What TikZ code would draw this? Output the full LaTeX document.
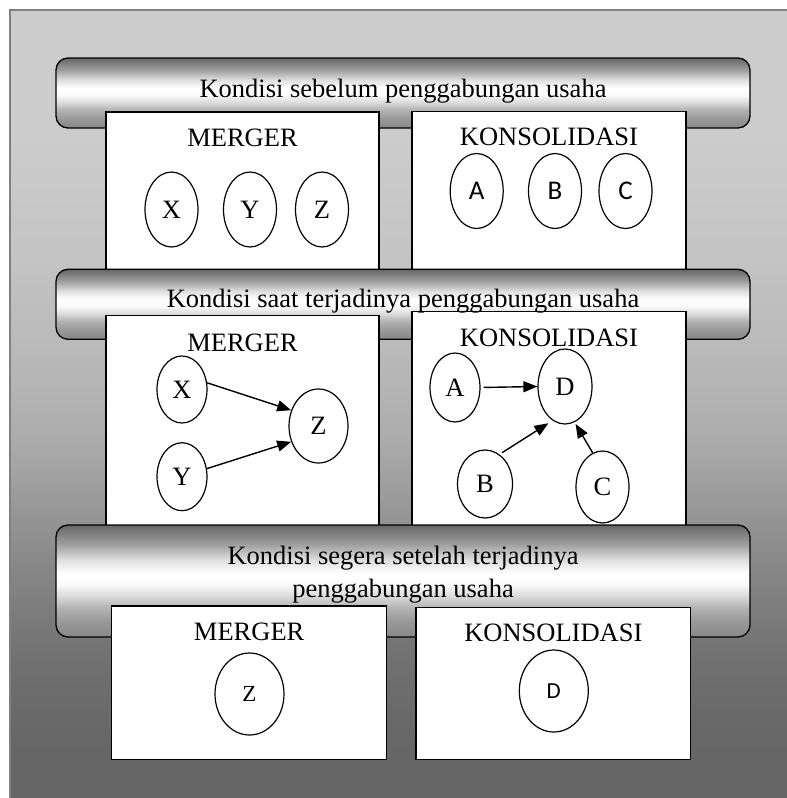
\documentclass[tikz,border=0pt]{standalone}
\usepackage{fontspec}
\setmainfont{Liberation Serif}
\newfontfamily\sansf{Carlito}
\usetikzlibrary{shapes.geometric,arrows.meta}
\definecolor{bgA}{gray}{0.80}
\definecolor{bgB}{gray}{0.77}
\definecolor{bgC}{gray}{0.72}
\definecolor{bgD}{gray}{0.67}
\definecolor{bgE}{gray}{0.58}
\definecolor{bgF}{gray}{0.50}
\definecolor{bgG}{gray}{0.43}
\definecolor{bgH}{gray}{0.40}
\definecolor{frameC}{gray}{0.5}
\definecolor{bnA}{gray}{0.40}
\definecolor{bnB}{gray}{0.62}
\definecolor{bnC}{gray}{0.87}
\definecolor{bnD}{gray}{1.0}
\definecolor{bnE}{gray}{0.98}
\definecolor{bnF}{gray}{0.85}
\definecolor{bnG}{gray}{0.70}
\definecolor{bnH}{gray}{0.60}
\definecolor{bnI}{gray}{0.53}
\pgfdeclareverticalshading{bgshade}{100bp}{color(0bp)=(bgH); color(28.2bp)=(bgH); color(33bp)=(bgG); color(37.9bp)=(bgF); color(42.8bp)=(bgE); color(47.6bp)=(bgD); color(52.5bp)=(bgC); color(59.8bp)=(bgB); color(67.1bp)=(bgA); color(100bp)=(bgA)}
\pgfdeclareverticalshading{bannershade}{100bp}{color(0bp)=(bnI); color(25bp)=(bnI); color(32bp)=(bnH); color(38bp)=(bnG); color(43bp)=(bnF); color(48.5bp)=(bnE); color(53.5bp)=(bnD); color(59.5bp)=(bnC); color(66.5bp)=(bnB); color(75bp)=(bnA); color(100bp)=(bnA)}
\tikzset{
  banner/.style={draw=black, line width=1.3pt, rounded corners=12pt, shading=bannershade, minimum width=694pt, inner sep=0pt},
  box/.style={draw=black, fill=white, line width=1.3pt, inner sep=0pt},
  ttl/.style={anchor=base, inner sep=0pt, font=\fontsize{26.5}{32}\selectfont},
  ell/.style={draw=black, line width=1.2pt, ellipse, inner sep=0pt, font=\fontsize{26.5}{32}\selectfont},
  sell/.style={ell, font=\sansf\fontsize{27}{32}\selectfont},
  arr/.style={-{Triangle[length=14pt,width=11pt]}, line width=1.4pt}
}
\begin{document}
\begin{tikzpicture}[x=1pt,y=-1pt]
\useasboundingbox (0,0) rectangle (787,798);
\shade[shading=bgshade] (10,10) rectangle (790,801);
\draw[draw=frameC, line width=2pt] (10,10) rectangle (790,801);

% Row 1
\node[banner, minimum height=70pt] (ban1) at (403,93) {};
\node[box, minimum width=273pt, minimum height=163pt] (m1) at (242.5,193.5) {};
\node[box, minimum width=274pt, minimum height=163.5pt] (k1) at (549,193.25) {};
\node[ttl] (ban1t) at (403,97.3) {Kondisi sebelum penggabungan usaha};
\node[ttl] (m1t) at (242.5,146.7) {MERGER};
\node[ttl] (k1t) at (549,145.7) {KONSOLIDASI};
\node[ell, minimum width=53pt, minimum height=75pt] (X1) at (171.5,209.5) {X};
\node[ell, minimum width=53pt, minimum height=75pt] (Y1) at (250,209.5) {Y};
\node[ell, minimum width=53pt, minimum height=75pt] (Z1) at (322,209.5) {Z};
\node[sell, minimum width=53pt, minimum height=75pt] (A1) at (476.7,191) {A};
\node[sell, minimum width=53pt, minimum height=75pt] (B1) at (555,191) {B};
\node[sell, minimum width=53pt, minimum height=75pt] (C1) at (625.5,191) {C};

% Row 2
\node[banner, minimum height=70pt] (ban2) at (403,304.3) {};
\node[box, minimum width=273pt, minimum height=214.3pt] (m2) at (242.5,422.85) {};
\node[box, minimum width=274pt, minimum height=218.3pt] (k2) at (549,420.85) {};
\node[ttl] (ban2t) at (403,307.3) {Kondisi saat terjadinya penggabungan usaha};
\node[ttl] (m2t) at (242.5,351) {MERGER};
\node[ttl] (k2t) at (549,346.7) {KONSOLIDASI};
\node[ell, minimum width=50pt, minimum height=67pt] (X2) at (182,389.5) {X};
\node[ell, minimum width=50pt, minimum height=68pt] (Y2) at (182,476.7) {Y};
\node[ell, minimum width=59pt, minimum height=74pt] (Z2) at (318.5,426) {Z};
\node[ell, minimum width=50pt, minimum height=69pt] (A2) at (455,387.5) {A};
\node[ell, minimum width=54pt, minimum height=75pt] (D2) at (565,386.5) {D};
\node[ell, minimum width=55pt, minimum height=68pt] (B2) at (485,484) {B};
\node[ell, minimum width=53pt, minimum height=72pt] (C2) at (602.5,487) {C};
\draw[arr] (X2.15) -- (Z2.150);
\draw[arr] (Y2.18) -- (Z2.210);
\draw[arr, shorten <=3pt] (A2.east) -- (D2.west);
\draw[arr, shorten <=3pt, shorten >=5pt] (B2.64) -- (D2.250);
\draw[arr, shorten >=2pt] (C2.106) -- (D2.285);

% Row 3
\node[banner, minimum height=112pt] (ban3) at (403,581) {};
\node[box, minimum width=275pt, minimum height=153.3pt] (m3) at (249.2,682.65) {};
\node[box, minimum width=274.7pt, minimum height=152pt] (k3) at (553.35,683.3) {};
\node[ttl] (ban3a) at (403,564) {Kondisi segera setelah terjadinya};
\node[ttl] (ban3b) at (403,597.5) {penggabungan usaha};
\node[ttl] (m3t) at (249.2,640) {MERGER};
\node[ttl] (k3t) at (553.35,641.7) {KONSOLIDASI};
\node[ell, minimum width=69pt, minimum height=82pt, font=\fontsize{23}{28}\selectfont] (Z3) at (249.5,694) {Z};
\node[sell, minimum width=69pt, minimum height=82pt, font=\sansf\fontsize{23}{28}\selectfont] (D3) at (553.8,691) {D};
\end{tikzpicture}
\end{document}
